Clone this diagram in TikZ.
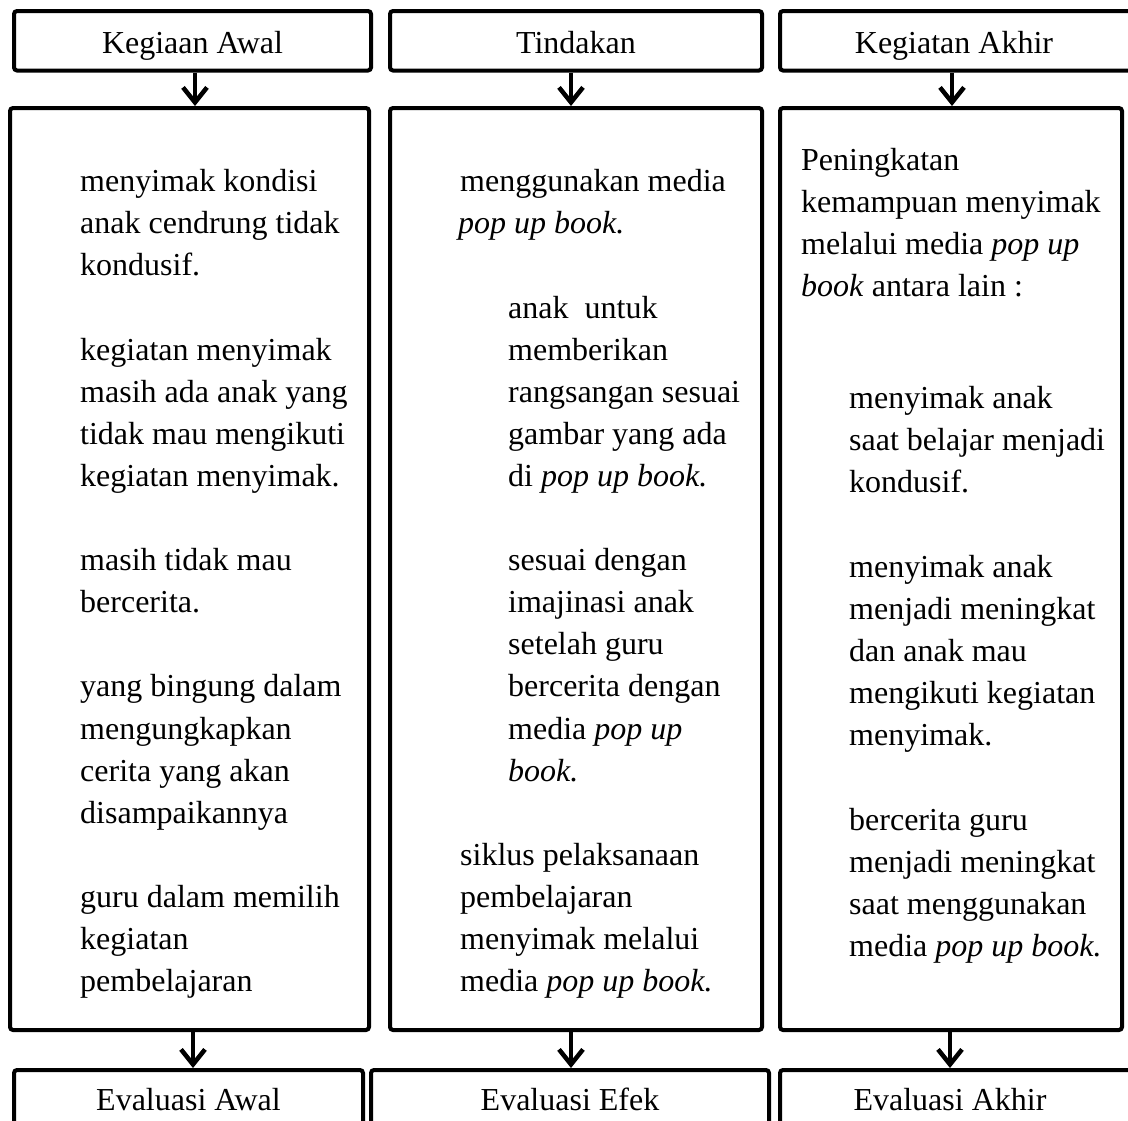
\documentclass[tikz,border=0pt]{standalone}
\usepackage{fontspec}
\setmainfont{Liberation Serif}
\usetikzlibrary{arrows.meta}
\tikzset{
  box/.style={draw=black, line width=4pt, rounded corners=3pt, fill=white, inner sep=0pt,
              font=\fontsize{32}{42}\selectfont},
  headbox/.style={box, minimum height=59.5pt, text height=25pt, text depth=0pt},
  footbox/.style={box, minimum height=80pt, text height=10pt, text depth=10pt},
  bodybox/.style={box, minimum height=922pt},
  tl/.style={anchor=base west, inner sep=0pt, font=\fontsize{32}{42}\selectfont},
  arr/.style={line width=4pt, -{Straight Barb[length=15pt,width=24pt,line width=4.5pt]}},
}
\begin{document}
\begin{tikzpicture}[x=1pt,y=-1pt]
\useasboundingbox (0,0) rectangle (1128,1120);
\clip (0,0) rectangle (1128,1120);
\fill[white] (0,0) rectangle (1128,1120);

% header boxes
\node[headbox, minimum width=357pt] (t1) at (192.5,40.75) {Kegiaan Awal};
\node[headbox, minimum width=372pt] (t2) at (576,40.75) {Tindakan};
\node[headbox, minimum width=352pt] (t3) at (956,40.75) {\hspace*{-4pt}Kegiatan Akhir};

% body boxes
\node[bodybox, minimum width=359pt] (m1) at (189.5,569) {};
\node[bodybox, minimum width=372pt] (m2) at (576,569) {};
\node[bodybox, minimum width=342pt] (m3) at (951,569) {};

% footer boxes
\node[footbox, minimum width=349pt] (b1) at (188.5,1110) {Evaluasi Awal};
\node[footbox, minimum width=398pt] (b2) at (570,1110) {Evaluasi Efek};
\node[footbox, minimum width=352pt] (b3) at (956,1110) {\hspace*{-12pt}Evaluasi Akhir};

% arrows
\draw[arr] ([xshift=2.5pt]t1.south) -- ([xshift=2.5pt]t1.south |- m1.north);
\draw[arr] ([xshift=-5pt]t2.south) -- ([xshift=-5pt]t2.south |- m2.north);
\draw[arr] ([xshift=-4pt]t3.south) -- ([xshift=-4pt]t3.south |- m3.north);
\draw[arr] ([xshift=3.5pt]m1.south) -- ([xshift=3.5pt]m1.south |- b1.north);
\draw[arr] ([xshift=-5pt]m2.south) -- ([xshift=-5pt]m2.south |- b2.north);
\draw[arr] ([xshift=-1pt]m3.south) -- ([xshift=-1pt]m3.south |- b3.north);

% column 1
\node[tl] (a1)  at (80,191.7) {menyimak kondisi};
\node[tl] (a2)  at (80,233.8) {anak cendrung tidak};
\node[tl] (a3)  at (80,275.9) {kondusif.};
\node[tl] (a4)  at (80,360.1) {kegiatan menyimak};
\node[tl] (a5)  at (80,402.2) {masih ada anak yang};
\node[tl] (a6)  at (80,444.3) {tidak mau mengikuti};
\node[tl] (a7)  at (80,486.4) {kegiatan menyimak.};
\node[tl] (a8)  at (80,570.6) {masih tidak mau};
\node[tl] (a9)  at (80,612.7) {bercerita.};
\node[tl] (a10) at (80,696.9) {yang bingung dalam};
\node[tl] (a11) at (80,739.0) {mengungkapkan};
\node[tl] (a12) at (80,781.1) {cerita yang akan};
\node[tl] (a13) at (80,823.2) {disampaikannya};
\node[tl] (a14) at (80,907.4) {guru dalam memilih};
\node[tl] (a15) at (80,949.5) {kegiatan};
\node[tl] (a16) at (80,991.6) {pembelajaran};

% column 2
\node[tl] (c1)  at (460,191.7) {menggunakan media};
\node[tl] (c2)  at (458,233.8) {\textit{pop up book.}};
\node[tl] (c3)  at (508,318.0) {anak\ \ untuk};
\node[tl] (c4)  at (508,360.1) {memberikan};
\node[tl] (c5)  at (508,402.2) {rangsangan sesuai};
\node[tl] (c6)  at (508,444.3) {gambar yang ada};
\node[tl] (c7)  at (508,486.4) {di \textit{pop up book.}};
\node[tl] (c8)  at (508,570.6) {sesuai dengan};
\node[tl] (c9)  at (508,612.7) {imajinasi anak};
\node[tl] (c10) at (508,654.8) {setelah guru};
\node[tl] (c11) at (508,696.9) {bercerita dengan};
\node[tl] (c12) at (508,739.0) {media \textit{pop up}};
\node[tl] (c13) at (508,781.1) {\textit{book.}};
\node[tl] (c14) at (460,865.3) {siklus pelaksanaan};
\node[tl] (c15) at (460,907.4) {pembelajaran};
\node[tl] (c16) at (460,949.5) {menyimak melalui};
\node[tl] (c17) at (460,991.6) {media \textit{pop up book.}};

% column 3
\node[tl] (e1)  at (801,170.0) {Peningkatan};
\node[tl] (e2)  at (801,212.1) {kemampuan menyimak};
\node[tl] (e3)  at (801,254.2) {melalui media \textit{pop up}};
\node[tl] (e4)  at (801,296.3) {\textit{book} antara lain :};
\node[tl] (e5)  at (849,408.0) {menyimak anak};
\node[tl] (e6)  at (849,450.1) {saat belajar menjadi};
\node[tl] (e7)  at (849,492.2) {kondusif.};
\node[tl] (e8)  at (849,577.5) {menyimak anak};
\node[tl] (e9)  at (849,619.6) {menjadi meningkat};
\node[tl] (e10) at (849,661.7) {dan anak mau};
\node[tl] (e11) at (849,703.8) {mengikuti kegiatan};
\node[tl] (e12) at (849,745.9) {menyimak.};
\node[tl] (e13) at (849,830.0) {bercerita guru};
\node[tl] (e14) at (849,872.1) {menjadi meningkat};
\node[tl] (e15) at (849,914.2) {saat menggunakan};
\node[tl] (e16) at (849,956.3) {media \textit{pop up book.}};
\end{tikzpicture}
\end{document}
